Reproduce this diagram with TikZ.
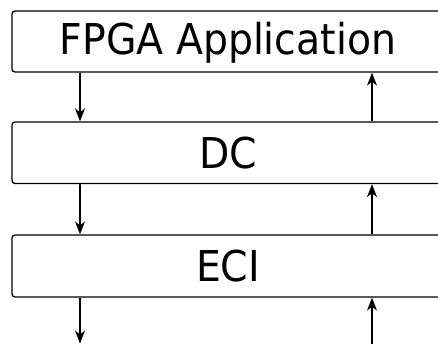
\documentclass[tikz,border=0pt]{standalone}
\usepackage{fontspec}
\setmainfont{DejaVu Sans Condensed}[FakeStretch=1.03]
\usetikzlibrary{arrows.meta}
\begin{document}
\begin{tikzpicture}[x=1pt,y=1pt,
  layer/.style={draw, line width=1.3pt, rounded corners=3pt, minimum width=432pt,
    inner sep=0pt, font=\fontsize{42.5}{50}\selectfont, text height=31pt, text depth=0pt},
  flow/.style={line width=1.3pt, -{Stealth[length=13pt,width=10pt,inset=4pt]}}]
  \useasboundingbox (0,0) rectangle (438,-344);
  \clip (0,0) rectangle (438,-344);
  % three stacked layers
  \node[layer, minimum height=61pt, text depth=5pt] (app) at (228,-41.5) {FPGA Application};
  \node[layer, minimum height=61.5pt] (dc) at (228,-152.75) {DC};
  \node[layer, minimum height=62pt] (eci) at (228,-266) {ECI};
  % columns of the downward and upward paths
  \coordinate (down) at (80,0);
  \coordinate (up) at (372,0);
  \coordinate (outdown) at (80,-343.5);
  \coordinate (inup) at (372,-346);
  % requests flowing down
  \draw[flow] (app.south -| down) -- (dc.north -| down);
  \draw[flow] (dc.south -| down) -- (eci.north -| down);
  \draw[flow] (eci.south -| down) -- (outdown);
  % responses flowing up
  \draw[flow] (dc.north -| up) -- (app.south -| up);
  \draw[flow] (eci.north -| up) -- (dc.south -| up);
  \draw[flow] (inup) -- (eci.south -| up);
\end{tikzpicture}
\end{document}
